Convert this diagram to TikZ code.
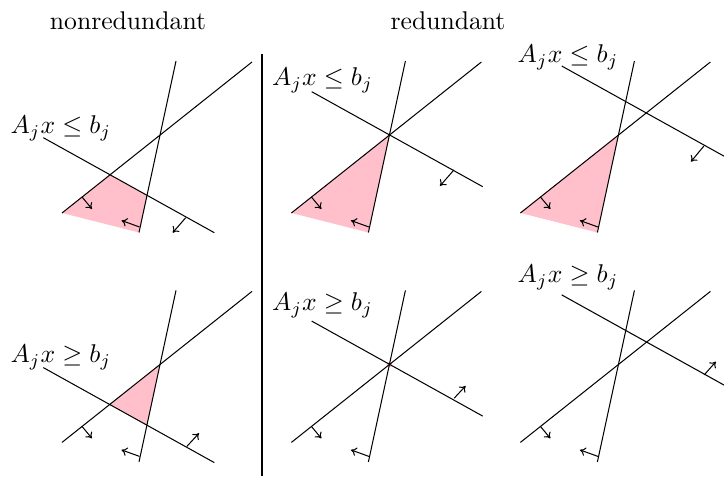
\documentclass[tikz,border=0pt]{standalone}
\usetikzlibrary{arrows.meta}
\definecolor{feas}{RGB}{255,192,203}
\begin{document}
\begin{tikzpicture}[x=0.39pt, y=-0.39pt, >={Computer Modern Rightarrow[length=2.2pt,width=3.4pt]},
  lab/.style={anchor=base west, inner sep=0pt}]
\useasboundingbox (0,0) rectangle (724,477);
\node[anchor=base] (nonred) at (128,30) {nonredundant};
\node[anchor=base] (red) at (448,30) {redundant};
\draw (262,54) -- (262,476);
% one panel per entry: shift, start of A_j line, its arrow, relation, label spot
\foreach \dx/\dy/\cx/\cy/\ux/\uy/\vx/\vy/\cmp/\lx/\ly [count=\i] in {
  0/0/43.3/137.7/185.7/217.7/172.7/232.7/\leq/10/134,
  0/229.4/43.3/138.2/186.7/217.2/199/203.8/\geq/10/133.5,
  229.4/0/82.3/91.7/224.5/170/210.5/186/\leq/42.2/86,
  458.4/0/103.3/66/245.5/146/232.5/161.7/\leq/58.8/63,
  229.4/229.4/82.3/91.7/224.8/168.8/236.2/156.5/\geq/42.2/81.5,
  458.4/229.4/103.3/65.5/245.8/145.5/257.5/132.2/\geq/58.8/53.5}
{
\begin{scope}[shift={(\dx,\dy)}]
  \coordinate (a1) at (62,213);   \coordinate (a2) at (252,62);
  \coordinate (b1) at (139,232.5); \coordinate (b2) at (176,61);
  \coordinate (c1) at (\cx,\cy);  \coordinate (c2) at (\cx+171,\cy+95);
  \coordinate (ab) at (intersection of a1--a2 and b1--b2);
  \coordinate (ac) at (intersection of a1--a2 and c1--c2);
  \coordinate (bc) at (intersection of b1--b2 and c1--c2);
  \ifcase\i\or
    \fill[feas] (a1) -- (ac) -- (bc) -- (b1) -- cycle;
  \or
    \fill[feas] (ab) -- (ac) -- (bc) -- cycle;
  \or
    \fill[feas] (a1) -- (ab) -- (b1) -- cycle;
  \or
    \fill[feas] (a1) -- (ab) -- (b1) -- cycle;
  \or
    \fill[feas] (ab) circle (1.1pt);
  \fi
  \draw (a1) -- (a2);
  \draw (b1) -- (b2);
  \draw (c1) -- (c2);
  \draw[->] (82,197) -- (92,209);
  \draw[->] (139.5,227) -- (121.5,220.5);
  \draw[->] (\ux,\uy) -- (\vx,\vy);
  \node[lab] (cons\i) at (\lx,\ly) {$A_jx \cmp b_j$};
\end{scope}
}
\end{tikzpicture}
\end{document}
